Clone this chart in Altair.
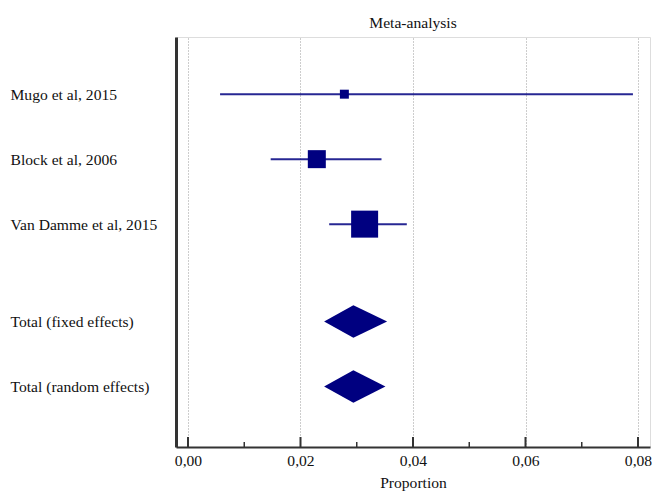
import altair as alt
import pandas as pd

# Studies
study_names = ["Mugo et al, 2015", "Block et al, 2006", "Van Damme et al, 2015"]
study_rows = [1, 2, 3]
study_est = [0.0278, 0.0229, 0.0314]
study_lo = [0.0057, 0.0147, 0.0251]
study_hi = [0.0791, 0.0344, 0.0389]
study_weight = [7.1, 28.6, 64.3]

# Pooled estimates
total_names = ["Total (fixed effects)", "Total (random effects)"]
total_rows = [4.5, 5.5]
total_est = [0.0294, 0.0294]
total_lo = [0.0242, 0.0242]
total_hi = [0.0354, 0.0351]

major_ticks = [0.0, 0.02, 0.04, 0.06, 0.08]
minor_ticks = [0.01, 0.03, 0.05, 0.07]

FONT = "Liberation Serif"
FS = 15.6
NAVY = "#000080"
AXC = "#333333"
DIAMOND_HALF = 0.25
W, H = 474, 410

studies = pd.DataFrame({
    "name": study_names, "row": study_rows, "est": study_est,
    "lo": study_lo, "hi": study_hi, "weight": study_weight,
})

drows = []
for n, r, e, lo, hi in zip(total_names, total_rows, total_est, total_lo, total_hi):
    drows.append({"name": n, "x": lo, "y": r, "y2": r})
    drows.append({"name": n, "x": e, "y": r - DIAMOND_HALF, "y2": r + DIAMOND_HALF})
    drows.append({"name": n, "x": hi, "y": r, "y2": r})
diamonds = pd.DataFrame(drows)

all_rows = study_rows + total_rows
all_names = study_names + total_names
expr = "''"
for r, n in reversed(list(zip(all_rows, all_names))):
    expr = f"datum.value == {r} ? '{n}' : ({expr})"

xscale = alt.Scale(domain=[-0.002133, 0.082133], nice=False, zero=False)
yscale = alt.Scale(domain=[0.12, 6.43], nice=False, zero=False, reverse=True)

xaxis = alt.Axis(
    values=major_ticks, grid=True, gridDash=[1, 2], gridColor="#9a9a9a",
    gridWidth=1, ticks=False, tickSize=0, domainColor=AXC, domainWidth=2,
    labelExpr="replace(format(datum.value, '.2f'), '.', ',')",
    labelFont=FONT, labelFontSize=FS, labelColor="#111", labelPadding=6,
    title="Proportion", titleFont=FONT, titleFontSize=FS, titleFontWeight="normal",
    titleColor="#111", titlePadding=7,
)
yaxis = alt.Axis(
    values=all_rows, grid=False, ticks=False, tickSize=0, domainColor=AXC,
    domainWidth=3, labelExpr=expr, labelAlign="left", labelPadding=166,
    labelFont=FONT, labelFontSize=FS, labelColor="#111", labelLimit=200, title=None,
)

ci = alt.Chart(studies).mark_rule(color=NAVY, strokeWidth=2, opacity=0.85).encode(
    x=alt.X("lo:Q", scale=xscale, axis=xaxis),
    x2="hi:Q",
    y=alt.Y("row:Q", scale=yscale, axis=yaxis),
)

squares = alt.Chart(studies).mark_square(color=NAVY, opacity=1).encode(
    x=alt.X("est:Q", scale=xscale),
    y=alt.Y("row:Q", scale=yscale),
    size=alt.Size("weight:Q", scale=alt.Scale(domain=[0, 64.3], range=[0, 729], zero=True), legend=None),
)

dia = alt.Chart(diamonds).mark_area(color=NAVY, opacity=1, orient="vertical").encode(
    x=alt.X("x:Q", scale=xscale),
    y=alt.Y("y:Q", scale=yscale),
    y2="y2:Q",
    detail="name:N",
)

major = alt.Chart(pd.DataFrame({"t": major_ticks})).mark_rule(color=AXC, strokeWidth=2).encode(
    x=alt.X("t:Q", scale=xscale), y=alt.value(H - 10), y2=alt.value(H)
)
minor = alt.Chart(pd.DataFrame({"t": minor_ticks})).mark_rule(color=AXC, strokeWidth=1.5).encode(
    x=alt.X("t:Q", scale=xscale), y=alt.value(H - 5), y2=alt.value(H)
)

chart = alt.layer(ci, squares, dia, major, minor).properties(
    width=W, height=H,
    padding={"left": 2, "top": 8, "right": 0, "bottom": 0},
    title=alt.TitleParams("Meta-analysis", font=FONT, fontSize=FS, fontWeight="normal",
                          color="#111", offset=5),
).configure_view(strokeWidth=0).configure(background="white")

chart.save("out.html", embed_options={"renderer": "svg", "actions": False})
